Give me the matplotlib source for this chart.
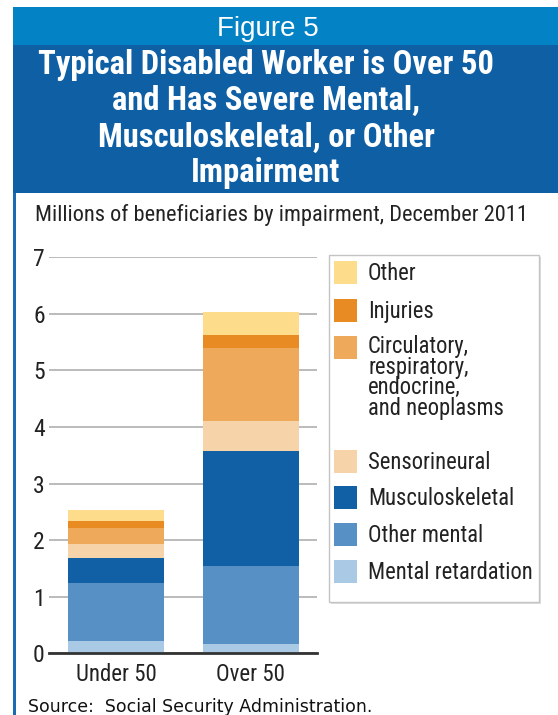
import matplotlib
matplotlib.use('Agg')
import matplotlib.pyplot as plt
from matplotlib.patches import Rectangle
import numpy as np

W, H = 558, 715

# data (millions of beneficiaries)
categories = ['Under 50', 'Over 50']
mental_retardation = [0.22, 0.16]
other_mental = [1.02, 1.39]
musculoskeletal = [0.44, 2.03]
sensorineural = [0.26, 0.53]
circulatory = [0.27, 1.29]
injuries = [0.12, 0.23]
other = [0.20, 0.40]
yticks = [0, 1, 2, 3, 4, 5, 6, 7]

# stacked bottom -> top
series = [mental_retardation, other_mental, musculoskeletal, sensorineural,
          circulatory, injuries, other]
series_labels = ['Mental retardation', 'Other mental', 'Musculoskeletal', 'Sensorineural',
                 'Circulatory,\nrespiratory,\nendocrine,\nand neoplasms', 'Injuries', 'Other']
colors = ['#A9C9E5', '#5690C4', '#1160A6', '#F6D3A9', '#EEA95B', '#E98B23', '#FDDC8B']

narrow = ['Roboto Condensed', 'Liberation Sans Narrow', 'Roboto', 'DejaVu Sans']


def fx(x):
    return x / W


def fy(y):
    return 1 - y / H


fig = plt.figure(figsize=(W / 100, H / 100), dpi=100)

# header bands
fig.add_artist(Rectangle((fx(13), fy(45)), 1 - fx(13), 38 / H,
                         transform=fig.transFigure, color='#0383C6', lw=0))
fig.add_artist(Rectangle((fx(13), fy(193)), 1 - fx(13), 148 / H,
                         transform=fig.transFigure, color='#0F5FA4', lw=0))
# left border of the panel
fig.add_artist(Rectangle((fx(13), 0), 2.5 / W, fy(193),
                         transform=fig.transFigure, color='#1B6AB2', lw=0))

fig.text(fx(268), fy(36), 'Figure 5', color='white', fontsize=20,
         family='Liberation Sans', ha='center', va='baseline')
title_lines = ['Typical Disabled Worker is Over 50', 'and Has Severe Mental,',
               'Musculoskeletal, or Other', 'Impairment']
for line, base in zip(title_lines, [74, 110, 146.5, 182]):
    fig.text(fx(266), fy(base), line, color='white', fontsize=23.5, fontweight='bold',
             family=narrow, ha='center', va='baseline')

fig.text(fx(35), fy(215), 'Millions of beneficiaries by impairment, December 2011',
         fontsize=16.1, family=narrow, color='#222222', va='center')

# chart
ax = fig.add_axes([fx(49), fy(653.3), (317 - 49) / W, (653.3 - 257.3) / H])
x = np.arange(len(categories))
bottom = np.zeros(len(categories))
for vals, c in zip(series, colors):
    ax.bar(x, vals, 0.714, bottom=bottom, color=c, edgecolor='none', zorder=3)
    bottom += np.array(vals)

ax.set_xlim(-0.498, 1.494)
ax.set_ylim(0, 7)
ax.set_yticks(yticks)
ax.set_xticks(x)
ax.set_xticklabels(categories)
ax.yaxis.grid(True, color='#A8A8A8', lw=1.1, zorder=0)
ax.set_axisbelow(True)
for s in ['top', 'right', 'left']:
    ax.spines[s].set_visible(False)
ax.spines['bottom'].set_color('#333333')
ax.spines['bottom'].set_linewidth(2)
ax.spines['bottom'].set_zorder(4)
ax.tick_params(axis='y', length=0, pad=3, labelsize=17, labelcolor='#222222')
ax.tick_params(axis='x', length=0, pad=7, labelsize=16.5, labelcolor='#222222')
for lab in ax.get_xticklabels() + ax.get_yticklabels():
    lab.set_family(narrow)

# legend, drawn by hand (top entry first)
fig.add_artist(Rectangle((fx(331), fy(604)), 210 / W, 347 / H,
                         transform=fig.transFigure, color='#DDDDDD', lw=0))
fig.add_artist(Rectangle((fx(329), fy(602)), 210 / W, 347 / H, transform=fig.transFigure,
                         facecolor='white', edgecolor='#C4C4C4', lw=1))
legend_y = [272, 310, 347, 461, 497, 534, 571]
for lab, c, yc in zip(series_labels[::-1], colors[::-1], legend_y):
    fig.add_artist(Rectangle((fx(334), fy(yc + 11.5)), 23 / W, 23 / H,
                             transform=fig.transFigure, color=c, lw=0))
    nlines = lab.count('\n') + 1
    # va='baseline' anchors the last line of a multi-line label
    fig.text(fx(368), fy(yc + 8 + 20 * (nlines - 1)), lab, fontsize=16.3, family=narrow,
             linespacing=0.873, color='#222222', va='baseline')

fig.text(fx(28), fy(712.5), 'Source:  Social Security Administration.', fontsize=12.5,
         family='DejaVu Sans', color='#111111', va='baseline')

fig.savefig('out.png', dpi=100)
